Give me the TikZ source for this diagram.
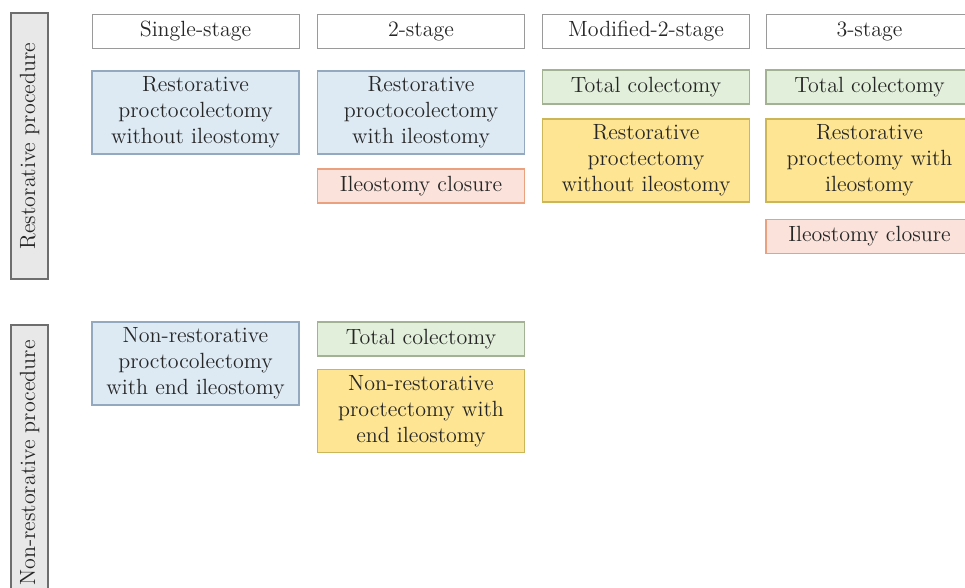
\documentclass[tikz,border=0pt]{standalone}
\usepackage{xcolor}
\usetikzlibrary{positioning}

\definecolor{headdraw}{HTML}{9A9A9A}
\definecolor{bardraw}{HTML}{6E6E6E}
\definecolor{barfill}{HTML}{E8E8E8}
\definecolor{bluefill}{HTML}{DDEAF4}
\definecolor{bluedraw}{HTML}{93A9BF}
\definecolor{greenfill}{HTML}{E2EFDA}
\definecolor{greendraw}{HTML}{A3B295}
\definecolor{yellowfill}{HTML}{FDE593}
\definecolor{yellowdraw}{HTML}{CBB757}
\definecolor{salmonfill}{HTML}{FBE3DB}
\definecolor{salmondraw}{HTML}{EBA07F}

\begin{document}
\begin{tikzpicture}[
    x=0.5pt, y=-0.5pt,
    node distance=7pt,
    every node/.style={font=\fontsize{11}{13}\selectfont, text=black!85},
    stage/.style={rectangle, draw=headdraw, fill=white, minimum width=103.5pt, minimum height=17pt, inner sep=0pt, align=center},
    procbar/.style={rectangle, draw=bardraw, fill=barfill, line width=1pt, minimum height=18.5pt, inner sep=0pt, rotate=90},
    onestep/.style={rectangle, draw=bluedraw, fill=bluefill, line width=0.8pt, minimum width=103.5pt, minimum height=41.5pt, inner sep=0pt, align=center},
    colectomy/.style={rectangle, draw=greendraw, fill=greenfill, line width=0.8pt, minimum width=103.5pt, minimum height=17pt, inner sep=0pt, align=center},
    proctectomy/.style={rectangle, draw=yellowdraw, fill=yellowfill, line width=0.8pt, minimum width=103.5pt, minimum height=41.5pt, inner sep=0pt, align=center},
    closure/.style={rectangle, draw=salmondraw, fill=salmonfill, line width=0.8pt, minimum width=103.5pt, minimum height=17pt, inner sep=0pt, align=center}
]
\useasboundingbox (0,0) rectangle (965,588);
\clip (0,0) rectangle (965,588);

% Side bars
\node[procbar, minimum width=133pt] (resbar) at (29.5,146) {Restorative procedure};
\node[procbar, minimum width=138pt] (nonresbar) at (29.5,463) {Non-restorative procedure};

% Headers
\node[stage] (single) at (195.5,31) {Single-stage};
\node[stage] (twostage) at (421,31) {2-stage};
\node[stage] (modtwo) at (646,31) {Modified-2-stage};
\node[stage] (threestage) at (869.5,31) {3-stage};

% Restorative
\node[onestep, below=11pt of single] (single_res) {Restorative\\proctocolectomy\\without ileostomy};
\node[onestep, below=11pt of twostage] (two_res) {Restorative\\proctocolectomy\\with ileostomy};
\node[closure, below=6.5pt of two_res] (two_close) {Ileostomy closure};
\node[colectomy, below=10.5pt of modtwo] (mod_col) {Total colectomy};
\node[proctectomy, below=6.5pt of mod_col] (mod_proc) {Restorative\\proctectomy\\without ileostomy};
\node[colectomy, below=10.5pt of threestage] (three_col) {Total colectomy};
\node[proctectomy, below=6.5pt of three_col] (three_proc) {Restorative\\proctectomy with\\ileostomy};
\node[closure, below=8pt of three_proc] (three_close) {Ileostomy closure};

% Non-restorative
\node[onestep] (single_non) at (195.5,363.5) {Non-restorative\\proctocolectomy\\with end ileostomy};
\node[colectomy] (two_col_non) at (421,339) {Total colectomy};
\node[proctectomy, below=6pt of two_col_non] (two_proc_non) {Non-restorative\\proctectomy with\\end ileostomy};
\end{tikzpicture}
\end{document}
